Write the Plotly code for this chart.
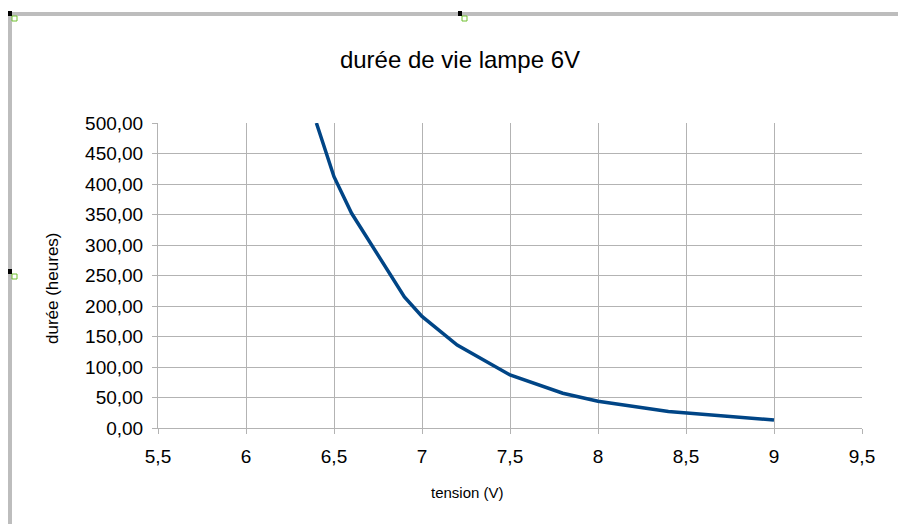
import plotly.graph_objects as go

tension = [6.4, 6.5, 6.6, 6.9, 7.0, 7.2, 7.5, 7.8, 8.0, 8.4, 9.0]
duree = [500, 412, 352, 215, 183, 136, 87, 57, 44, 27, 13]

x_ticks = [5.5, 6, 6.5, 7, 7.5, 8, 8.5, 9, 9.5]
x_labels = ["5,5", "6", "6,5", "7", "7,5", "8", "8,5", "9", "9,5"]
y_ticks = [0, 50, 100, 150, 200, 250, 300, 350, 400, 450, 500]

# page is offset by the 8px body margin; work in figure coordinates
OFF = 8
W, H = 906 - OFF, 524 - OFF
L, T = 158 - OFF, 123 - OFF
Rr, Bb = 862 - OFF, 428 - OFF
R, B = W - Rr, H - Bb
pw, ph = Rr - L, Bb - T

def px(x):
    return (x - OFF - L) / pw

def py(y):
    return (Bb - (y - OFF)) / ph

fig = go.Figure()
fig.add_trace(go.Scatter(
    x=tension, y=duree, mode="lines",
    line=dict(color="#004586", width=3.5),
    hoverinfo="x+y", showlegend=False,
))

font = "Liberation Sans, Arial, sans-serif"
axis_common = dict(
    showgrid=True, gridcolor="#b3b3b3", gridwidth=1,
    showline=True, linecolor="#b3b3b3", linewidth=1,
    ticks="outside", ticklen=5, tickcolor="#b3b3b3",
    tickfont=dict(family=font, size=19, color="#000000"),
    zeroline=False,
)

shapes = [
    dict(type="rect", xref="paper", yref="paper", x0=px(8), x1=px(906), y0=py(16), y1=py(12),
         fillcolor="#bdbdbd", line=dict(width=0), layer="above"),
    dict(type="rect", xref="paper", yref="paper", x0=px(8), x1=px(12), y0=py(524), y1=py(12),
         fillcolor="#bdbdbd", line=dict(width=0), layer="above"),
]
for hx, hy in [(8, 11), (458, 11), (8, 269)]:
    shapes.append(dict(type="rect", xref="paper", yref="paper", x0=px(hx), x1=px(hx + 4),
                       y0=py(hy + 5), y1=py(hy), fillcolor="#000000", line=dict(width=0), layer="above"))
    shapes.append(dict(type="rect", xref="paper", yref="paper", x0=px(hx + 4), x1=px(hx + 9),
                       y0=py(hy + 10), y1=py(hy + 5), fillcolor="#ffffff",
                       line=dict(width=1, color="#6fbf2f"), layer="above"))

annotations = [
    dict(text="tension (V)", xref="paper", yref="paper", x=px(467), y=py(492),
         xanchor="center", yanchor="middle", showarrow=False,
         font=dict(family=font, size=15, color="#000000")),
    dict(text="durée (heures)", xref="paper", yref="paper", x=px(52), y=py(288),
         xanchor="center", yanchor="middle", showarrow=False, textangle=-90,
         font=dict(family=font, size=17, color="#000000")),
]

fig.update_layout(
    width=W, height=H,
    margin=dict(l=L, r=R, t=T, b=B),
    paper_bgcolor="#ffffff", plot_bgcolor="#ffffff",
    separators=", ",
    title=dict(text="durée de vie lampe 6V", x=(460 - OFF) / W, xanchor="center",
               y=1 - (60 - OFF) / H, yanchor="middle",
               font=dict(family=font, size=24, color="#000000")),
    xaxis=dict(axis_common, range=[5.5, 9.5], tickvals=x_ticks, ticktext=x_labels,
               ticklabelstandoff=6),
    yaxis=dict(axis_common, range=[0, 500], tickvals=y_ticks, tickformat=".2f",
               ticklabelstandoff=5),
    shapes=shapes,
    annotations=annotations,
)

fig.write_html("out.html")
